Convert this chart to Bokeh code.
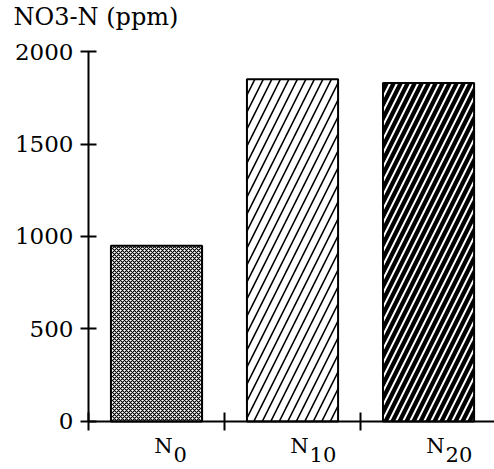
from bokeh.plotting import figure
from bokeh.models import Range1d, FixedTicker, Label
from bokeh.embed import file_html
from bokeh.resources import INLINE

# ---- data ----
categories = ["N0", "N10", "N20"]
values = [950, 1850, 1830]
y_ticks = [0, 500, 1000, 1500, 2000]
title_text = "NO3-N (ppm)"

FONT = "DejaVu Serif"

# the frame covers the whole canvas; axes are placed at fixed data locations
p = figure(width=494, height=469,
           x_range=Range1d(-1.147, 2.485), y_range=Range1d(-259.5, 2275.7),
           output_backend="svg", toolbar_location=None,
           min_border_left=0, min_border_right=0,
           min_border_bottom=0, min_border_top=0)

p.xgrid.visible = False
p.ygrid.visible = False
p.outline_line_color = None
p.background_fill_color = "white"
p.border_fill_color = "white"

# y axis
p.yaxis.fixed_location = -0.5
p.yaxis.bounds = (y_ticks[0], y_ticks[-1])
p.yaxis.ticker = FixedTicker(ticks=y_ticks)
p.yaxis.major_tick_in = 8
p.yaxis.major_tick_out = 8
p.yaxis.minor_tick_line_color = None
p.yaxis.axis_line_width = 2
p.yaxis.major_tick_line_width = 2
p.yaxis.major_label_text_font = FONT
p.yaxis.major_label_text_font_size = "23px"
p.yaxis.major_label_text_color = "black"
p.yaxis.major_label_standoff = 7

# x axis (category boundary ticks, no labels)
x_ticks = [-0.5, 0.5, 1.5]
p.xaxis.fixed_location = 0
p.xaxis.bounds = (-0.5, 2.485)
p.xaxis.ticker = FixedTicker(ticks=x_ticks)
p.xaxis.major_label_overrides = {t: "" for t in x_ticks}
p.xaxis.major_tick_in = 9
p.xaxis.major_tick_out = 9
p.xaxis.minor_tick_line_color = None
p.xaxis.axis_line_width = 2
p.xaxis.major_tick_line_width = 2

styles = [
    dict(fill_color="white", hatch_pattern="x", hatch_color="black",
         hatch_scale=4, hatch_weight=1.1),
    dict(fill_color="white", hatch_pattern="/", hatch_color="black",
         hatch_scale=17, hatch_weight=1.6),
    dict(fill_color="black", hatch_pattern="/", hatch_color="white",
         hatch_scale=14, hatch_weight=2),
]

for i, (v, st) in enumerate(zip(values, styles)):
    p.vbar(x=i, top=v, bottom=0, width=0.67,
           line_color="black", line_width=2, **st)

# title
p.add_layout(Label(x=-0.5, y=y_ticks[-1], x_offset=-75, y_offset=35,
                   text=title_text, text_font=FONT, text_font_size="24px",
                   text_align="left", text_baseline="alphabetic",
                   text_color="black"))

# category labels with subscripts
for i, c in enumerate(categories):
    p.add_layout(Label(x=i, y=0, x_offset=16, y_offset=-25, text=c[0],
                       text_align="right", text_baseline="alphabetic",
                       text_font=FONT, text_font_size="21px",
                       text_color="black"))
    p.add_layout(Label(x=i, y=0, x_offset=17, y_offset=-33, text=c[1:],
                       text_align="left", text_baseline="alphabetic",
                       text_font=FONT, text_font_size="21px",
                       text_color="black"))

open("out.html", "w").write(file_html(p, INLINE))
